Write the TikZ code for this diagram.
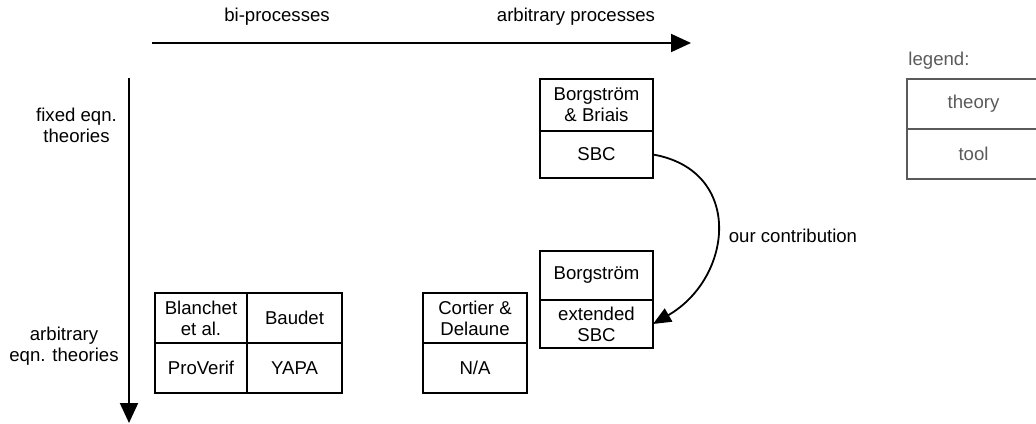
\documentclass[tikz,border=0pt]{standalone}
\usepackage{fontspec}
\setmainfont{Liberation Sans}
\usetikzlibrary{arrows.meta}
\definecolor{leggray}{HTML}{5A5A5A}
\begin{document}
\begin{tikzpicture}[x=1pt,y=1pt,
  every node/.style={font=\fontsize{18.6}{21}\selectfont, inner sep=0pt, outer sep=0pt, align=center},
  cell/.style={draw=black, line width=1.8pt, minimum width=113pt, minimum height=50pt},
  legcell/.style={draw=leggray, text=leggray, line width=1.8pt, minimum width=133pt, minimum height=50pt},
  axis/.style={line width=2pt, -{Triangle[length=20pt,width=18pt]}},
  contrib/.style={line width=1.8pt, -{Triangle[length=18pt,width=15pt]}}
]
\useasboundingbox (0,0) rectangle (1036,-423);

% axes
\coordinate (hs) at (152,-43);
\coordinate (he) at (691,-43);
\coordinate (vs) at (129,-78);
\coordinate (ve) at (129,-423);
\draw[axis] (hs) -- (he);
\draw[axis] (vs) -- (ve);

\node (lbi) at (277,-17) {bi-processes};
\node (larb) at (576,-17) {arbitrary processes};
\node (lfixed) at (76.5,-125) {fixed eqn.\\theories};
\node (larbeq) at (64,-346) {arbitrary\\eqn. theories};

% Borgstrom & Briais
\node[cell, minimum height=52pt] (bb) at (596.5,-105) {Borgström\\\& Briais};
\node[cell, minimum height=47pt, anchor=north] (sbc) at (bb.south) {SBC};

% Borgstrom extended
\node[cell, minimum height=49pt] (borg) at (596.5,-275.5) {Borgström};
\node[cell, minimum height=48pt, anchor=north] (ext) at (borg.south) {extended\\SBC};

% Blanchet / Baudet
\node[cell, minimum width=92pt] (blan) at (201,-318) {Blanchet\\et al.};
\node[cell, minimum width=95pt] (baud) at (294.5,-318) {Baudet};
\node[cell, minimum width=92pt] (prov) at (201,-368) {ProVerif};
\node[cell, minimum width=95pt] (yapa) at (294.5,-368) {YAPA};

% Cortier & Delaune
\node[cell, minimum width=104pt] (cort) at (475,-318) {Cortier \&\\Delaune};
\node[cell, minimum width=104pt] (na) at (475,-368) {N/A};

% contribution arrow
\draw[contrib] (sbc.east) to[out=-10, in=30, looseness=1.4] (ext.east);
\node (lcontrib) at (793,-236) {our contribution};

% legend
\node[text=leggray] (leg) at (939,-61) {legend:};
\node[legcell] (theory) at (973.5,-104) {theory};
\node[legcell] (tool) at (973.5,-154) {tool};
\end{tikzpicture}
\end{document}
